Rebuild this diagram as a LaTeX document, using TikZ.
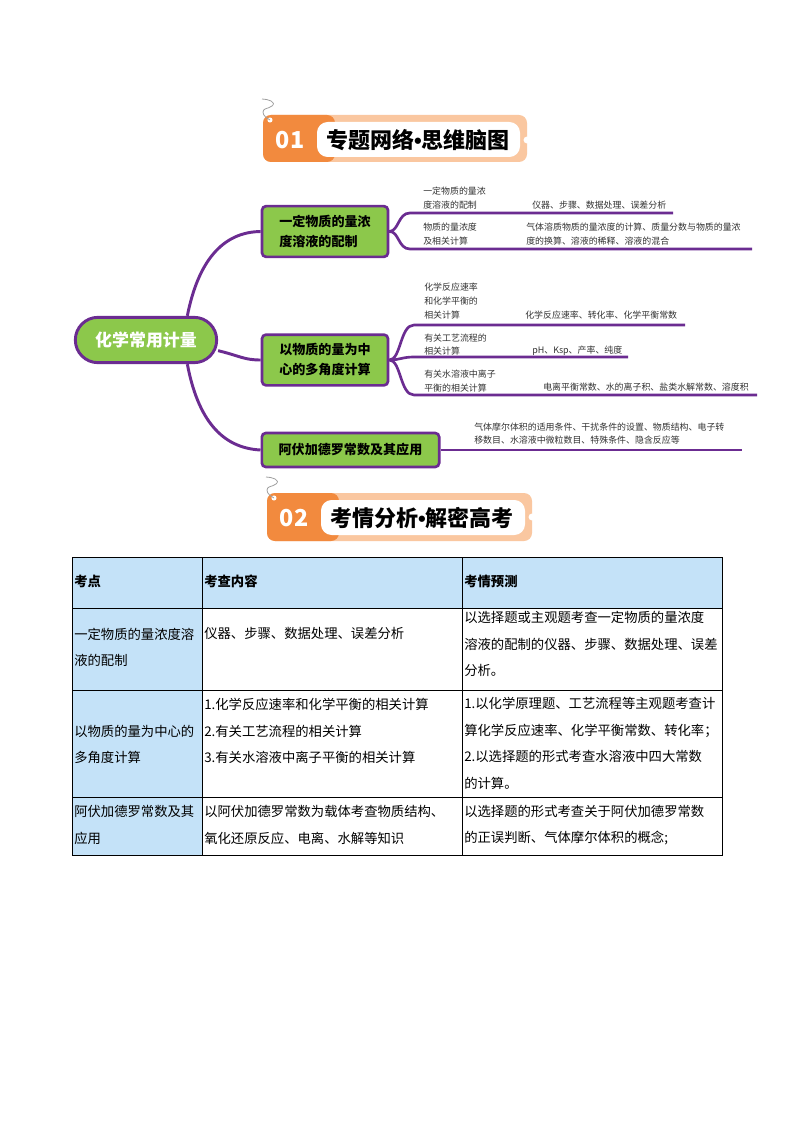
\documentclass[tikz,border=0pt]{standalone}
\usepackage{fontspec}
\setmainfont{Noto Sans CJK SC}
\newfontfamily\latinfont{Liberation Sans}
\usetikzlibrary{positioning}
\definecolor{plum}{HTML}{6B2C91}
\definecolor{leaf}{HTML}{8CC84B}
\definecolor{tangerine}{HTML}{F28A3E}
\definecolor{peach}{HTML}{FAC7A0}
\definecolor{icy}{HTML}{C4E2F8}
\definecolor{ink}{HTML}{333333}
\tikzset{
  root/.style={draw=plum,line width=2.2pt,fill=leaf,rounded corners=17pt,minimum width=106pt,
               minimum height=34pt,text=white,font=\fontsize{12.7}{14}\selectfont\bfseries},
  topic/.style={draw=plum,line width=2pt,fill=leaf,rounded corners=3pt,minimum width=94.5pt,
                minimum height=38pt,align=left,font=\fontsize{9.8}{15}\selectfont\bfseries},
  branch/.style={draw=plum,line width=2.2pt},
  twig/.style={draw=plum,line width=2pt},
  note/.style={anchor=west,inner sep=0pt,align=left,text=ink,font=\fontsize{6.7}{10.2}\selectfont},
  cell/.style={anchor=west,inner sep=0pt,align=left,font=\fontsize{10}{20}\selectfont},
  headcell/.style={cell,font=\fontsize{10}{20}\selectfont\bfseries},
  badge/.style={text=white,font=\fontsize{17.5}{18}\selectfont\bfseries},
  title/.style={font=\fontsize{16.5}{18}\selectfont\bfseries},
  thread/.style={draw=gray!75,line width=0.6pt},
  grid/.style={draw=black,line width=0.75pt}
}
\newcommand{\dotsep}{{\latinfont\bfseries •}}

\begin{document}
\begin{tikzpicture}[x=0.75pt,y=-0.75pt]
\useasboundingbox (0,0) rectangle (794,1123);
\fill[white] (0,0) rectangle (794,1123);

% header 01
\fill[peach,rounded corners=6pt] (263,115) rectangle (527,162);
\fill[tangerine,rounded corners=6pt] (263,115) rectangle (335,162);
\fill[white,rounded corners=8pt] (317,122) rectangle (520,157);
\fill[white] (527,140) circle[radius=2.6pt];
\fill[white] (270,120) circle[radius=1.9pt];
\draw[thread] (262,99) .. controls (268,99) and (277,102) .. (272,106)
  .. controls (268,109) and (263,108) .. (263,112) .. controls (263,116) and (267,118) .. (270,120);
\node[badge] (n1) at (290,140) {01};
\node[title] (h1) at (418,140) {专题网络\dotsep 思维脑图};

% mind map
\node[root] (c) at (146,340) {化学常用计量};
\node[topic] (a) at (325,231.5) {一定物质的量浓\\度溶液的配制};
\node[topic] (b) at (325,360) {以物质的量为中\\心的多角度计算};
\node[topic,minimum width=133pt,minimum height=25.5pt] (d) at (350.5,450) {阿伏加德罗常数及其应用};

\draw[branch] ([xshift=31pt]c.north) .. controls (198,262) and (222,232) .. (a.west);
\draw[branch] ([yshift=-8pt]c.east) .. controls (240,356) and (244,360) .. (b.west);
\draw[branch] ([xshift=31pt]c.south) .. controls (198,420) and (222,448) .. (d.west);

\coordinate (a1) at (673,213);
\coordinate (a2) at (752,249);
\coordinate (b1) at (685,325);
\coordinate (b2) at (628,357);
\coordinate (b3) at (757,395);
\coordinate (d1) at (742,450);
\draw[twig] (a.east) .. controls (399,231) and (398,213) .. (410,213) -- (a1);
\draw[twig] (a.east) .. controls (399,231) and (398,249) .. (410,249) -- (a2);
\draw[twig] (b.east) .. controls (401,360) and (400,325) .. (414,325) -- (b1);
\draw[twig] (b.east) .. controls (400,360) and (402,357) .. (414,357) -- (b2);
\draw[twig] (b.east) .. controls (401,360) and (400,395) .. (414,395) -- (b3);
\draw[twig] (d.east) -- (d1);

\node[note] (ta1) at (423,198) {一定物质的量浓\\度溶液的配制};
\node[note] (va1) at (532,205) {仪器、步骤、数据处理、误差分析};
\node[note] (ta2) at (423,234) {物质的量浓度\\及相关计算};
\node[note] (va2) at (526,234) {气体溶质物质的量浓度的计算、质量分数与物质的量浓\\度的换算、溶液的稀释、溶液的混合};
\node[note] (tb1) at (424,301) {化学反应速率\\和化学平衡的\\相关计算};
\node[note] (vb1) at (525,315) {化学反应速率、转化率、化学平衡常数};
\node[note] (tb2) at (424,344.5) {有关工艺流程的\\相关计算};
\node[note] (vb2) at (532,351) {pH、Ksp、产率、纯度};
\node[note] (tb3) at (424,381) {有关水溶液中离子\\平衡的相关计算};
\node[note] (vb3) at (543,387) {电离平衡常数、水的离子积、盐类水解常数、溶度积};
\node[note] (vd1) at (474,433.5) {气体摩尔体积的适用条件、干扰条件的设置、物质结构、电子转\\移数目、水溶液中微粒数目、特殊条件、隐含反应等};

% header 02
\fill[peach,rounded corners=6pt] (267,493) rectangle (532,541);
\fill[tangerine,rounded corners=6pt] (267,493) rectangle (339,541);
\fill[white,rounded corners=8pt] (321,500) rectangle (525,535);
\fill[white] (532,517) circle[radius=2.6pt];
\fill[white] (274,498) circle[radius=1.9pt];
\draw[thread] (266,477) .. controls (272,477) and (281,480) .. (276,484)
  .. controls (272,487) and (267,486) .. (267,490) .. controls (267,494) and (271,496) .. (274,498);
\node[badge] (n2) at (294,518) {02};
\node[title] (h2) at (422,518) {考情分析\dotsep 解密高考};

% table
\fill[icy] (72,557) rectangle (722,608);
\fill[icy] (72,608) rectangle (202,855);
\draw[grid] (72,557) rectangle (722,855);
\draw[grid] (72,608) -- (722,608);
\draw[grid] (72,690) -- (722,690);
\draw[grid] (72,797) -- (722,797);
\draw[grid] (202,557) -- (202,855);
\draw[grid] (462,557) -- (462,855);

\node[headcell] (k0) at (74,581) {考点};
\node[headcell] (q0) at (204,581) {考查内容};
\node[headcell] (y0) at (464,581) {考情预测};
\node[cell] (k1) at (74,647.5) {一定物质的量浓度溶\\液的配制};
\node[cell] (q1) at (204,633) {仪器、步骤、数据处理、误差分析};
\node[cell] (y1) at (464,644) {以选择题或主观题考查一定物质的量浓度\\溶液的配制的仪器、步骤、数据处理、误差\\分析。};
\node[cell] (k2) at (74,744.5) {以物质的量为中心的\\多角度计算};
\node[cell] (q2) at (204,731) {1.化学反应速率和化学平衡的相关计算\\2.有关工艺流程的相关计算\\3.有关水溶液中离子平衡的相关计算};
\node[cell] (y2) at (464,743.5) {1.以化学原理题、工艺流程等主观题考查计\\算化学反应速率、化学平衡常数、转化率；\\2.以选择题的形式考查水溶液中四大常数\\的计算。};
\node[cell] (k3) at (74,825) {阿伏加德罗常数及其\\应用};
\node[cell] (q3) at (204,825) {以阿伏加德罗常数为载体考查物质结构、\\氧化还原反应、电离、水解等知识};
\node[cell] (y3) at (464,825) {以选择题的形式考查关于阿伏加德罗常数\\的正误判断、气体摩尔体积的概念;};
\end{tikzpicture}
\end{document}
